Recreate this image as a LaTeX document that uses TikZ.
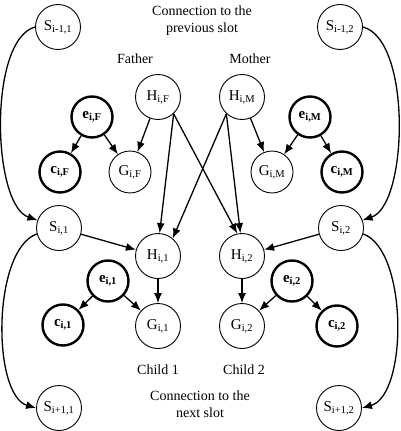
\documentclass[tikz,border=0pt]{standalone}
\usepackage{fontspec}
\setmainfont{Liberation Serif}
\usetikzlibrary{arrows.meta}
\begin{document}
\begin{tikzpicture}[x=1pt,y=-1pt,
  nd/.style={circle,draw,line width=0.9pt,minimum size=45pt,inner sep=0pt,font=\fontsize{15}{17}\selectfont},
  bnd/.style={nd,line width=2.4pt,minimum size=41pt},
  arr/.style={line width=1.3pt,-{Latex[length=10pt,width=8pt]}},
  lbl/.style={font=\fontsize{14}{17}\selectfont,align=center}]
\useasboundingbox (0,0) rectangle (400,431);
% nodes
\node[nd] (sp1) at (58,27) {S\textsubscript{i-1,1}};
\node[nd] (sp2) at (340,27) {S\textsubscript{i-1,2}};
\node[nd] (hF) at (158,97) {H\textsubscript{i,F}};
\node[nd] (hM) at (242,97) {H\textsubscript{i,M}};
\node[bnd] (eF) at (92,117) {\textbf{e\textsubscript{i,F}}};
\node[bnd] (eM) at (310,117) {\textbf{e\textsubscript{i,M}}};
\node[bnd] (cF) at (60,172) {\textbf{c\textsubscript{i,F}}};
\node[nd,minimum size=42pt] (gF) at (130,172) {G\textsubscript{i,F}};
\node[nd,minimum size=42pt] (gM) at (272,172) {G\textsubscript{i,M}};
\node[bnd] (cM) at (342,172) {\textbf{c\textsubscript{i,M}}};
\node[nd] (s1) at (59,228) {S\textsubscript{i,1}};
\node[nd] (s2) at (341,228) {S\textsubscript{i,2}};
\node[nd] (h1) at (158,256) {H\textsubscript{i,1}};
\node[nd] (h2) at (242,256) {H\textsubscript{i,2}};
\node[bnd] (e1) at (108,281) {\textbf{e\textsubscript{i,1}}};
\node[bnd] (e2) at (292,281) {\textbf{e\textsubscript{i,2}}};
\node[bnd] (c1) at (63,325) {\textbf{c\textsubscript{i,1}}};
\node[nd] (g1) at (158,326) {G\textsubscript{i,1}};
\node[nd] (g2) at (242,326) {G\textsubscript{i,2}};
\node[bnd] (c2) at (337,326) {\textbf{c\textsubscript{i,2}}};
\node[nd] (sn1) at (59,408) {S\textsubscript{i+1,1}};
\node[nd] (sn2) at (339,408) {S\textsubscript{i+1,2}};
% labels
\node[lbl] (tprev) at (202,21) {Connection to the\\previous slot};
\node[lbl] (tfa) at (135,59) {Father};
\node[lbl] (tmo) at (250,59) {Mother};
\node[lbl] (tc1) at (158,370) {Child 1};
\node[lbl] (tc2) at (244,370) {Child 2};
\node[lbl] (tnext) at (200,404) {Connection to the\\next slot};
% slot connections
\draw[arr] (sp1.west) .. controls (-12,40) and (-8,205) .. (s1.160);
\draw[arr] (s1.195) .. controls (-8,250) and (-8,395) .. (sn1.west);
\draw[arr] (sp2.east) .. controls (412,40) and (408,205) .. (s2.20);
\draw[arr] (s2.-15) .. controls (408,250) and (408,395) .. (sn2.east);
% parents to children
\draw[arr] (hF.-47) -- (h1.86);
\draw[arr] (hF.-47) -- (h2.102);
\draw[arr] (hM.227) -- (h2.94);
\draw[arr] (hM.227) -- (h1.50);
\draw[arr] (s1) -- (h1);
\draw[arr] (s2) -- (h2);
% local
\draw[arr] (hF) -- (gF);
\draw[arr] (eF) -- (gF);
\draw[arr] (eF) -- (cF);
\draw[arr] (hM) -- (gM);
\draw[arr] (eM) -- (gM);
\draw[arr] (eM) -- (cM);
\draw[arr] (h1) -- (g1);
\draw[arr] (e1) -- (g1);
\draw[arr] (e1) -- (c1);
\draw[arr] (h2) -- (g2);
\draw[arr] (e2) -- (g2);
\draw[arr] (e2) -- (c2);
\end{tikzpicture}
\end{document}
